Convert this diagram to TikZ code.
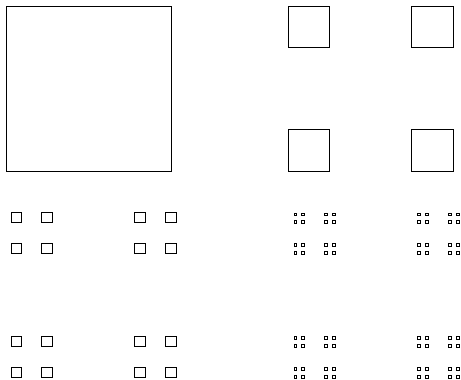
\documentclass[tikz,border=0pt]{standalone}
\begin{document}
\begin{tikzpicture}[x=1pt,y=-1pt,sq/.style={draw=black,line width=0.9pt}]
\useasboundingbox (0,0) rectangle (461,380);
% level 0
\draw[sq] (6,6) rectangle ++(165,165);
% level 1
\foreach \a in {0,1}{\foreach \b in {0,1}{
  \draw[sq] ({288+\a*123.75},{6+\b*123.75}) rectangle ++(41.25,41.25);
}}
% level 2
\foreach \a in {0,1}{\foreach \b in {0,1}{\foreach \c in {0,1}{\foreach \d in {0,1}{
  \draw[sq] ({11+\a*123.75+\c*30.94},{212.5+\b*123.75+\d*30.94}) rectangle ++(10.31,10.31);
}}}}
% level 3
\foreach \a in {0,1}{\foreach \b in {0,1}{\foreach \c in {0,1}{\foreach \d in {0,1}{\foreach \e in {0,1}{\foreach \f in {0,1}{
  \draw[sq] ({294+\a*123.75+\c*30.94+\e*7.73},{213+\b*123.75+\d*30.94+\f*7.73}) rectangle ++(2.58,2.58);
}}}}}}
\end{tikzpicture}
\end{document}
